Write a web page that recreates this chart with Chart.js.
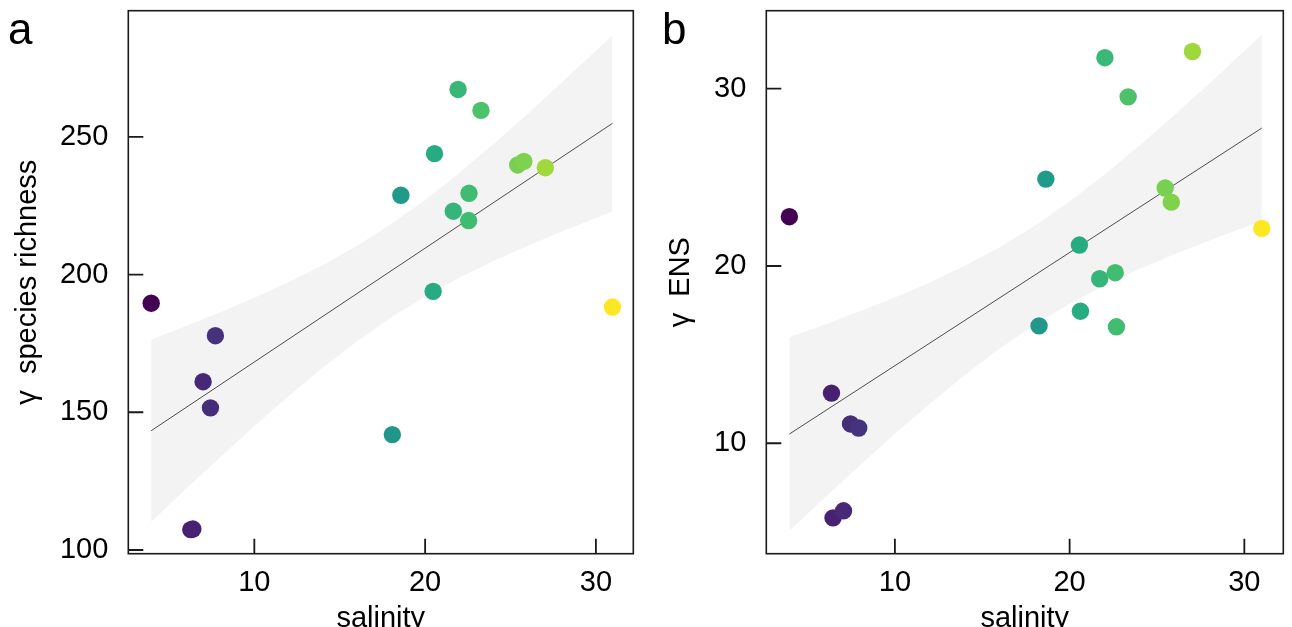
<!DOCTYPE html>
<html><head><meta charset="utf-8">
<script src="https://cdn.jsdelivr.net/npm/chart.js@4"></script>
<style>
html,body{margin:0;padding:0;background:#fff;overflow:hidden;width:1292px;height:627px;}
#ca{position:absolute;left:0;top:0;}
#cb{position:absolute;left:650px;top:0;}
</style></head><body>
<canvas id="ca" width="650" height="627"></canvas>
<canvas id="cb" width="642" height="627"></canvas>
<script>
// ---------- data ----------
const salinityA = [3.96, 6.28, 6.40, 7.00, 7.43, 7.72, 18.08, 18.58, 20.47, 20.55, 21.65, 21.93, 22.55, 22.57, 23.27, 25.42, 25.78, 27.04, 30.97];
const richness  = [189.6, 107.4, 107.6, 161.1, 151.6, 177.8, 141.9, 228.8, 193.9, 243.9, 223.0, 267.2, 219.6, 229.5, 259.6, 239.8, 241.1, 238.8, 188.2];

const salinityB = [3.96, 6.37, 6.46, 7.06, 7.46, 7.93, 18.25, 18.64, 20.56, 20.62, 21.72, 22.02, 22.61, 22.68, 23.35, 25.47, 25.82, 27.03, 31.00];
const ens       = [22.78, 12.83, 5.79, 6.19, 11.09, 10.86, 16.62, 24.90, 21.18, 17.45, 19.28, 31.75, 19.62, 16.57, 29.54, 24.40, 23.60, 32.10, 22.12];

const fitXA = [3.96, 30.97];
const fitYA = [143.3, 254.9];
const fitXB = [3.96, 31.00];
const fitYB = [10.52, 27.78];

const bandXA  = [3.96, 6, 8, 10, 12, 14, 16, 18, 20, 22, 24, 26, 28, 30.97];
const bandUpA = [176.4, 181.3, 186.3, 191.6, 197.2, 203.4, 210.4, 218.3, 227.1, 236.9, 247.4, 258.3, 269.7, 286.9];
const bandLoA = [110.2, 122.2, 133.7, 145.0, 155.8, 166.2, 175.7, 184.4, 192.0, 198.8, 204.9, 210.4, 215.6, 222.9];

const bandXB  = [3.96, 6, 8, 10, 12, 14, 16, 18, 20, 22, 24, 26, 28, 31.00];
const bandUpB = [15.98, 16.70, 17.44, 18.22, 19.07, 20.01, 21.06, 22.27, 23.64, 25.16, 26.79, 28.51, 30.29, 33.05];
const bandLoB = [5.06, 6.94, 8.76, 10.53, 12.23, 13.85, 15.35, 16.69, 17.87, 18.91, 19.83, 20.66, 21.44, 22.55];

const xTicks  = [10, 20, 30];
const yTicksA = [100, 150, 200, 250];
const yTicksB = [10, 20, 30];

const xTitle  = 'salinity';
const yTitleA = 'γ  species richness';
const yTitleB = 'γ  ENS';

// ---------- styling helpers ----------
const VIRIDIS = ['#440154','#482475','#414487','#355F8D','#2A788E','#21918C','#22A884','#44BF70','#7AD151','#BDDF26','#FDE725'];
function hex2rgb(h){return [parseInt(h.slice(1,3),16),parseInt(h.slice(3,5),16),parseInt(h.slice(5,7),16)];}
function viridis(t){
  t = Math.max(0, Math.min(1, t));
  const p = t * (VIRIDIS.length - 1), i = Math.min(Math.floor(p), VIRIDIS.length - 2), f = p - i;
  const a = hex2rgb(VIRIDIS[i]), b = hex2rgb(VIRIDIS[i+1]);
  return 'rgb(' + a.map((v,k)=>Math.round(v + (b[k]-v)*f)).join(',') + ')';
}
function colorsFor(xs){
  const mn = Math.min(...xs), mx = Math.max(...xs);
  return xs.map(x => viridis((x - mn) / (mx - mn)));
}

const FONT = '"Liberation Sans", Arial, Helvetica, sans-serif';
Chart.defaults.font.family = FONT;
Chart.defaults.color = '#000';

const framePlugin = {
  id: 'frame',
  afterDraw(chart, args, opts) {
    const {ctx, chartArea: {left, right, top, bottom}} = chart;
    const xs = chart.scales.x, ys = chart.scales.y;
    ctx.save();
    ctx.strokeStyle = '#1a1a1a';
    ctx.lineWidth = 1.6;
    ctx.strokeRect(left, top, right - left, bottom - top);
    ctx.lineWidth = 1.8;
    ctx.beginPath();
    xs.ticks.forEach(t => { const p = xs.getPixelForValue(t.value); ctx.moveTo(p, bottom); ctx.lineTo(p, bottom - 15); });
    ys.ticks.forEach(t => { const p = ys.getPixelForValue(t.value); ctx.moveTo(left, p); ctx.lineTo(left + 15, p); });
    ctx.stroke();
    ctx.fillStyle = '#000';
    ctx.font = '44px ' + FONT;
    ctx.textBaseline = 'alphabetic';
    ctx.textAlign = 'left';
    ctx.fillText(opts.label, opts.lx, opts.ly);
    ctx.restore();
  }
};

function pts(xs, ys){ return xs.map((x,i)=>({x, y: ys[i]})); }

function makeChart(id, cfg){
  return new Chart(document.getElementById(id), {
    type: 'scatter',
    data: {
      datasets: [
        { data: pts(cfg.sx, cfg.sy), pointRadius: 8.7, pointHoverRadius: 8.7, backgroundColor: colorsFor(cfg.sx), borderWidth: 0, pointBorderWidth: 0, order: 0 },
        { data: pts(cfg.fx, cfg.fy), showLine: true, borderColor: '#3a3a3a', borderWidth: 0.9, pointRadius: 0, fill: false, order: 1 },
        { data: pts(cfg.bx, cfg.bu), showLine: true, borderColor: 'rgba(0,0,0,0)', borderWidth: 1, pointRadius: 0, fill: '+1', backgroundColor: '#f3f3f3', order: 3 },
        { data: pts(cfg.bx, cfg.bl), showLine: true, borderColor: 'rgba(0,0,0,0)', borderWidth: 1, pointRadius: 0, fill: false, order: 2 }
      ]
    },
    options: {
      responsive: false,
      animation: false,
      devicePixelRatio: 1,
      events: [],
      layout: { padding: { top: 10.7, right: cfg.padRight, left: 0, bottom: 0 } },
      plugins: {
        legend: { display: false },
        tooltip: { enabled: false },
        frame: { label: cfg.label, lx: cfg.lx, ly: cfg.ly }
      },
      scales: {
        x: {
          type: 'linear', min: cfg.xmin, max: cfg.xmax,
          grid: { display: false, drawTicks: false }, border: { display: false },
          ticks: { padding: 12, font: { size: 29 }, color: '#000', maxRotation: 0, autoSkip: false, callback: v => String(v) },
          afterBuildTicks: s => { s.ticks = xTicks.map(v => ({ value: v })); },
          afterFit: s => { s.height = 73.3; s.paddingLeft = 0; s.paddingRight = 0; },
          title: { display: true, text: xTitle, font: { size: 29 }, color: '#000', padding: { top: 0, bottom: -9.4 } }
        },
        y: {
          type: 'linear', min: cfg.ymin, max: cfg.ymax,
          grid: { display: false, drawTicks: false }, border: { display: false },
          ticks: { padding: 20, font: { size: 29 }, color: '#000', autoSkip: false, callback: v => String(v) },
          afterBuildTicks: s => { s.ticks = cfg.yt.map(v => ({ value: v })); },
          afterFit: s => { s.width = cfg.yw; s.paddingTop = 0; s.paddingBottom = 0; },
          title: { display: true, text: cfg.yTitle, font: { size: 29 }, color: '#000', padding: { top: cfg.ytPad, bottom: 0 } }
        }
      }
    },
    plugins: [framePlugin]
  });
}

makeChart('ca', {
  sx: salinityA, sy: richness, fx: fitXA, fy: fitYA, bx: bandXA, bu: bandUpA, bl: bandLoA,
  xmin: 2.62, xmax: 32.19, ymin: 98.65, ymax: 295.8, yt: yTicksA,
  yw: 128.3, padRight: 16.7, yTitle: yTitleA, ytPad: 11, label: 'a', lx: 8, ly: 44
});
makeChart('cb', {
  sx: salinityB, sy: ens, fx: fitXB, fy: fitYB, bx: bandXB, bu: bandUpB, bl: bandLoB,
  xmin: 2.64, xmax: 32.23, ymin: 3.77, ymax: 34.4, yt: yTicksB,
  yw: 116.3, padRight: 3.7, yTitle: yTitleB, ytPad: 14, label: 'b', lx: 12, ly: 43.5
});
</script>
</body></html>
